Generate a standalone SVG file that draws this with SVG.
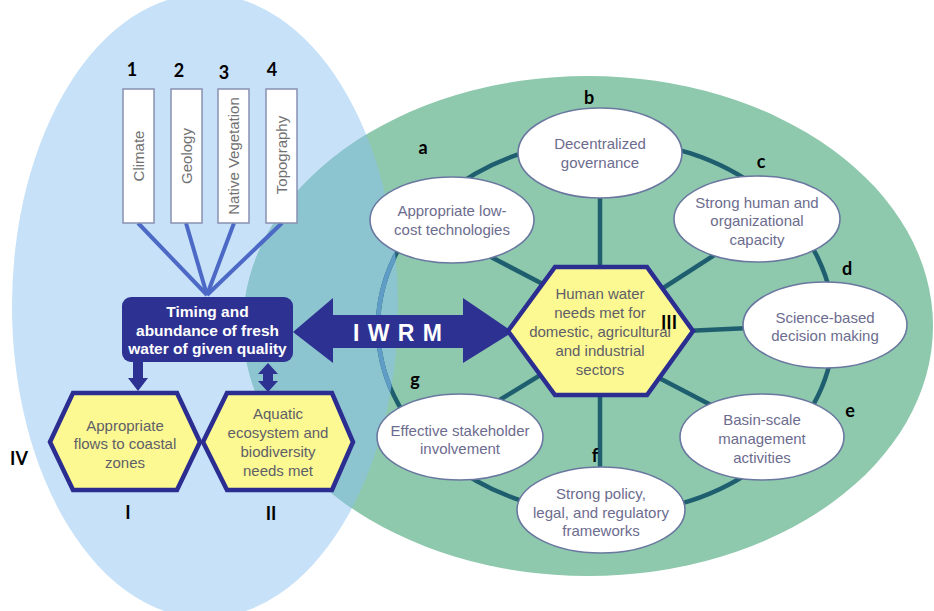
<svg xmlns="http://www.w3.org/2000/svg" width="934" height="611" viewBox="0 0 934 611">
<defs>
<clipPath id="blueClip"><ellipse cx="205" cy="306" rx="193" ry="312"/></clipPath>
<style>
.sat{fill:#ffffff;stroke:#6a78a0;stroke-width:1.6}
.st{font-family:"Liberation Sans",Arial,sans-serif;font-size:15px;fill:#6c6c8e;text-anchor:middle}
.hex{fill:#fcf892;stroke:#2b2d91;stroke-width:4.5;stroke-linejoin:miter}
.ht{font-family:"Liberation Sans",Arial,sans-serif;font-size:15px;fill:#5f5f68;text-anchor:middle}
.fb{fill:#ffffff;stroke:#8890b0;stroke-width:1.5}
.ft{font-family:"Liberation Sans",Arial,sans-serif;font-size:15px;fill:#727272;text-anchor:middle}
.lbl{font-family:Lato,"Open Sans",sans-serif;font-weight:bold;font-size:18px;fill:#000000;text-anchor:middle}
.spoke{stroke:#1f5e6f;stroke-width:4.5;fill:none}
.fl{stroke:#4d69c6;stroke-width:4;fill:none}
.navy{fill:#2d3192}
.wt{font-family:"Liberation Sans",Arial,sans-serif;font-weight:bold;fill:#ffffff;text-anchor:middle}
</style>
</defs>
<rect width="934" height="611" fill="#ffffff"/>
<g id="background">
<ellipse cx="205" cy="306" rx="193" ry="312" fill="#c6e1f8"/>
<ellipse cx="588" cy="326" rx="345" ry="250" fill="#8ec8ad"/>
<ellipse cx="588" cy="326" rx="345" ry="250" fill="#8cc4cf" clip-path="url(#blueClip)"/>
</g>
<g id="connectors">
<ellipse cx="606" cy="327" rx="228" ry="187" fill="none" stroke="#1f5e6f" stroke-width="4.5"/>
<ellipse cx="606" cy="327" rx="228" ry="187" fill="none" stroke="#5f9cc6" stroke-width="4.5" clip-path="url(#blueClip)"/>
<line class="spoke" x1="600" y1="190" x2="600" y2="280"/>
<line class="spoke" x1="600" y1="385" x2="600" y2="475"/>
<line class="spoke" x1="685" y1="331" x2="750" y2="328"/>
<line class="spoke" x1="470" y1="246" x2="560" y2="293"/>
<line class="spoke" x1="640" y1="303" x2="730" y2="245"/>
<line class="spoke" x1="640" y1="368" x2="730" y2="415"/>
<line class="spoke" x1="480" y1="412" x2="560" y2="363"/>
<line class="fl" x1="138" y1="223" x2="207" y2="295"/>
<line class="fl" x1="186" y1="223" x2="207" y2="295"/>
<line class="fl" x1="234" y1="223" x2="207" y2="295"/>
<line class="fl" x1="282" y1="223" x2="207" y2="295"/>
<polygon class="navy" points="293,332 333,298 333,315 463,315 463,298 513,332 463,363 463,348 333,348 333,363"/>
<polygon class="navy" points="133,360 143,360 143,378 148,378 138,391 128,378 133,378"/>
<polygon class="navy" points="268,363 278,374 273,374 273,381 278,381 268,392 258,381 263,381 263,374 258,374"/>
</g>
<g id="iwrm-label"><text class="wt" x="398" y="341" font-size="23" letter-spacing="1">I W R M</text></g>
<g id="factor-climate"><rect class="fb" x="123" y="89" width="31" height="134"/><text class="ft" transform="translate(144,156) rotate(-90)">Climate</text></g>
<g id="factor-geology"><rect class="fb" x="171" y="89" width="31" height="134"/><text class="ft" transform="translate(192,156) rotate(-90)">Geology</text></g>
<g id="factor-vegetation"><rect class="fb" x="218" y="89" width="31" height="134"/><text class="ft" transform="translate(239,156) rotate(-90)">Native Vegetation</text></g>
<g id="factor-topography"><rect class="fb" x="266" y="89" width="31" height="134"/><text class="ft" transform="translate(287,155) rotate(-90)">Topography</text></g>
<g id="timing"><rect class="navy" x="122" y="297" width="171" height="65" rx="9"/>
<text class="wt" font-size="15.5"><tspan x="207.5" y="317">Timing and</tspan><tspan x="207.5" y="335.5">abundance of fresh</tspan><tspan x="207.5" y="354">water of given quality</tspan></text></g>
<g id="hex-I"><polygon class="hex" points="50,442 73,393 177,393 200,442 177,490 73,490"/>
<text class="ht"><tspan x="125" y="430.5">Appropriate</tspan><tspan x="125" y="449">flows to coastal</tspan><tspan x="125" y="467.5">zones</tspan></text></g>
<g id="hex-II"><polygon class="hex" points="203,442 227,393 332,393 353,442 332,490 227,490"/>
<text class="ht"><tspan x="278" y="418.5">Aquatic</tspan><tspan x="278" y="438">ecosystem and</tspan><tspan x="278" y="457">biodiversity</tspan><tspan x="278" y="476">needs met</tspan></text></g>
<g id="hex-III"><polygon class="hex" points="508,331 555,267 647,267 693,331 647,395 555,395"/>
<text class="ht" font-size="15.5"><tspan x="600" y="298.5">Human water</tspan><tspan x="600" y="318">needs met for</tspan><tspan x="600" y="337">domestic, agricultural</tspan><tspan x="600" y="356">and industrial</tspan><tspan x="600" y="375">sectors</tspan></text></g>
<g id="sat-a"><ellipse class="sat" cx="452" cy="220" rx="82" ry="43"/><text class="st"><tspan x="452" y="215.5">Appropriate low-</tspan><tspan x="452" y="234.5">cost technologies</tspan></text></g>
<g id="sat-b"><ellipse class="sat" cx="600" cy="153" rx="82" ry="45"/><text class="st"><tspan x="600" y="148.5">Decentralized</tspan><tspan x="600" y="167.5">governance</tspan></text></g>
<g id="sat-c"><ellipse class="sat" cx="757" cy="219" rx="83" ry="43"/><text class="st"><tspan x="757" y="207.5">Strong human and</tspan><tspan x="757" y="225.5">organizational</tspan><tspan x="757" y="244.5">capacity</tspan></text></g>
<g id="sat-d"><ellipse class="sat" cx="825" cy="325" rx="82" ry="43"/><text class="st"><tspan x="825" y="322.5">Science-based</tspan><tspan x="825" y="340.5">decision making</tspan></text></g>
<g id="sat-e"><ellipse class="sat" cx="762" cy="437" rx="82" ry="43"/><text class="st"><tspan x="762" y="424.5">Basin-scale</tspan><tspan x="762" y="443.5">management</tspan><tspan x="762" y="462.5">activities</tspan></text></g>
<g id="sat-f"><ellipse class="sat" cx="601" cy="510" rx="84" ry="43"/><text class="st"><tspan x="601" y="498.5">Strong policy,</tspan><tspan x="601" y="517.5">legal, and regulatory</tspan><tspan x="601" y="535.5">frameworks</tspan></text></g>
<g id="sat-g"><ellipse class="sat" cx="460" cy="437" rx="83" ry="43"/><text class="st"><tspan x="460" y="435.5">Effective stakeholder</tspan><tspan x="460" y="453.5">involvement</tspan></text></g>
<g id="labels">
<text class="lbl" x="132" y="76">1</text>
<text class="lbl" x="179" y="77">2</text>
<text class="lbl" x="224" y="79">3</text>
<text class="lbl" x="272" y="76">4</text>
<text class="lbl" x="423" y="153.5">a</text>
<text class="lbl" x="589" y="103.5">b</text>
<text class="lbl" x="761" y="167.5">c</text>
<text class="lbl" x="847" y="274.5">d</text>
<text class="lbl" x="850" y="416.5">e</text>
<text class="lbl" x="595" y="461.5">f</text>
<text class="lbl" x="415" y="386">g</text>
<text class="lbl" x="128" y="518.5">I</text>
<text class="lbl" x="271" y="519.5">II</text>
<text class="lbl" x="669" y="328.5">III</text>
<text class="lbl" x="19" y="464.5">IV</text>
</g>
</svg>
